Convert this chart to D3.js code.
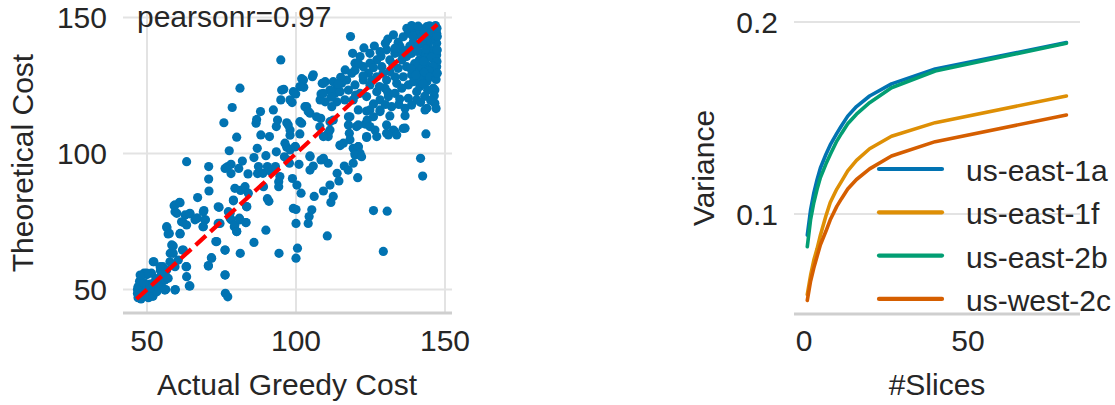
<!DOCTYPE html>
<html>

<head>
    <title>cost_variance</title>
    <script src="https://d3js.org/d3.v7.min.js"></script>
    <style>
        body { margin: 0; background: #fff; }
        text { font-family: "Liberation Sans", Arial, sans-serif; fill: #262626; }
    </style>
</head>

<body>
    <svg width="1115" height="405" id="mainsvg"></svg>
    <script>
        // left panel: [actual greedy cost, theoretical cost]
        const costPairs = [
            [118.3,143.0],[94.9,134.4],[81.2,124.0],[78.6,116.9],[75.8,111.3],[80.1,106.0],[63.3,97.0],[70.7,95.2],[70.7,90.6],[70.8,86.2],
            [67.0,83.8],[59.1,80.8],[60.9,82.0],[59.4,78.6],[56.7,72.7],[57.5,70.6],[61.1,70.6],[62.1,74.7],[64.4,77.8],[58.8,66.0],
            [57.8,63.3],[61.9,64.5],[63.1,58.4],[63.3,54.7],[64.2,51.3],[59.5,50.0],[56.3,50.0],[52.3,60.2],[55.3,58.4],[76.2,55.4],
            [76.3,48.6],[77.1,47.3],[70.6,58.8],[71.6,61.7],[73.1,67.6],[76.2,64.5],[81.3,63.3],[85.9,67.3],[89.9,71.8],[94.3,63.3],
            [100.0,61.5],[100.5,65.2],[110.5,69.7],[126.0,79.0],[130.6,78.8],[129.3,64.0],[141.8,98.2],[142.5,91.7],[143.6,107.2],
            [69.1,79.0],[69.6,75.6],[68.8,73.1],[66.1,75.6],[66.9,76.2],[74.2,80.2],[73.9,74.3],[77.9,78.0],[79.0,82.6],[78.3,75.6],
            [79.3,73.1],[80.1,71.3],[81.0,76.2],[83.2,74.6],[83.4,80.5],[81.4,86.4],[82.9,87.8],[83.9,92.5],[80.8,94.5],[82.0,97.2],
            [77.1,95.2],[78.2,96.0],[77.6,101.0],[76.2,94.5],[78.2,92.6],[85.9,98.5],[87.0,101.9],[87.1,92.6],[87.4,95.2],[88.9,92.7],
            [90.4,95.2],[89.9,99.2],[89.1,87.8],[90.4,83.4],[90.9,82.4],[91.6,93.3],[93.1,95.2],[93.4,100.6],[94.2,89.6],[94.2,87.8],
            [96.1,98.8],[96.9,102.3],[97.2,97.6],[98.0,106.7],[98.8,90.8],[99.8,102.5],[100.3,88.4],[101.0,96.0],[101.7,85.4],[99.1,79.8],
            [100.0,79.4],[100.0,74.3],[104.4,76.8],[104.1,74.3],[105.3,79.3],[106.1,84.2],[104.7,93.9],[105.8,95.4],[104.7,99.1],[108.4,97.6],
            [110.8,96.4],[109.2,86.2],[111.4,88.4],[111.7,82.0],[112.5,84.2],[113.8,92.7],[114.4,89.9],[116.2,95.4],[117.5,93.9],[119.2,96.4],
            [120.7,91.1],[119.2,101.9],[119.8,100.1],[120.9,102.5],[114.8,102.9],[117.9,107.4],[120.3,109.9],[123.7,105.9],[126.5,108.6],[123.2,110.8],
            [130.4,107.4],[133.2,108.0],[136.0,109.2],[136.6,113.9],[131.5,113.8],[128.2,115.4],[123.7,115.6],[118.1,113.5],[112.5,112.3],[110.8,106.2],
            [111.4,108.6],[108.0,109.8],[101.9,111.1],[101.3,107.2],[98.0,108.6],[96.9,111.3],[93.4,109.9],[91.1,106.2],[88.2,106.8],[86.6,111.1],
            [86.8,112.5],[88.1,115.4],[92.4,116.0],[93.8,112.3],[98.7,118.7],[94.9,119.7],[95.9,123.6],[99.9,121.9],[102.6,124.3],[101.9,127.5],
            [105.5,128.2],[103.6,117.2],[104.7,114.8],[108.8,125.8],[108.4,121.9],[109.8,119.0],[109.8,126.4],
            [132.7,143.6],[130.8,142.0],[134.3,140.9],[137.7,144.2],[139.4,141.1],[141.6,146.0],[143.9,146.6],[146.1,145.4],[146.6,141.7],[146.6,138.1],
            [146.3,134.4],[146.3,130.1],[144.4,139.9],[142.7,136.8],[143.9,132.5],[141.4,134.4],[140.5,130.7],[142.2,128.2],[143.9,126.4],[146.1,124.0],
            [146.6,118.5],[143.9,116.6],[140.5,122.7],[137.7,120.3],[137.7,125.2],[138.8,128.9],[136.0,128.2],[133.8,125.8],[135.5,134.4],[137.1,135.6],
            [133.2,136.8],[131.5,134.4],[130.4,138.1],[128.2,137.4],[127.1,134.4],[128.8,131.9],[131.5,130.1],[130.4,127.0],[133.2,128.2],[127.1,128.2],
            [124.8,136.8],[124.8,133.2],[122.6,131.9],[121.5,135.6],[119.0,136.8],[119.8,133.2],[118.7,129.5],[117.0,127.0],[115.3,125.8],[113.7,124.6],
            [113.1,122.1],[114.8,122.7],[117.6,123.3],[119.8,125.2],[122.6,127.0],[124.8,125.2],[127.1,122.7],[129.9,124.0],[128.2,119.7],[131.0,120.9],
            [133.2,122.1],[132.1,117.2],[136.6,116.6],[140.5,119.7],[123.7,120.9],[121.5,122.1],[119.2,119.7],[116.4,119.7],[113.7,119.0],[111.4,123.3],
            [112.5,126.4],[109.2,125.8],[124.8,116.0],[128.2,116.0],[126.0,113.5],[123.9,112.3],[120.9,110.5],[124.8,109.9],[130.4,110.5],[132.7,108.6],
            [133.8,106.8],[131.0,106.8],[127.1,106.2],[123.7,106.2],[136.6,109.3],[120.9,116.0],[117.6,113.5],[117.6,110.5],[114.8,103.1],[118.1,105.0],
            [120.9,102.5],[121.5,100.1],[119.8,99.4],[122.0,98.8],[110.8,107.4],[109.2,106.2],[108.3,112.9],[143.3,116.0],[146.6,123.3],[137.1,131.9],
            [138.8,136.8],[140.5,139.3],[142.7,142.9],[145.0,143.6],[147.2,144.2],[147.2,140.5],[147.2,136.2],[147.2,131.9],[145.5,137.4],[145.0,129.5],
            [142.2,131.9],[144.4,135.6],[141.6,124.6],[139.4,126.4],[134.3,131.3],[134.9,139.3],[136.0,142.9],[133.2,138.7],
            [139.5,145.0],[141.0,143.5],[143.0,144.8],[144.8,146.9],[146.8,147.0],[147.3,146.0],[145.8,142.4],[144.0,141.5],[142.3,140.2],[140.8,137.5],
            [143.5,138.4],[145.4,135.3],[147.3,133.8],[146.0,132.0],[144.6,130.5],[143.0,129.8],[141.3,127.5],[139.8,133.0],[138.5,131.2],[142.8,133.9],
            [144.9,128.0],[147.0,127.2],[146.4,121.2],[144.2,123.2],[142.6,125.6],[140.2,128.8],[138.2,139.5],[136.8,137.8],[135.6,136.5],[139.2,143.2],
            [137.2,146.0],[138.8,147.0],[141.0,146.8],[145.5,144.5],[147.4,143.0],[147.4,138.0],[147.4,129.5],[143.2,121.0],[145.2,119.5],[147.0,116.5],
            [130.0,140.5],[128.5,135.7],[126.0,131.5],[124.3,129.5],[126.3,139.5],[122.8,138.8],[121.0,133.0],[119.8,130.5],[122.5,128.5],[125.5,127.0],
            [128.0,124.6],[130.8,122.5],[134.8,120.0],[135.5,124.0],[132.5,132.8],[129.2,129.5],[116.5,130.7],[115.0,128.0],[114.2,125.5],[111.8,120.7],
            [120.0,121.5],[126.0,118.2],[130.0,118.0],[134.5,118.0],[138.8,117.8],[141.8,118.8],
            [47.0,47.0],[47.5,48.0],[48.0,46.5],[48.0,49.0],[48.5,50.5],[47.0,51.0],[47.5,53.0],[49.0,47.5],[49.5,49.0],[50.0,51.0],
            [50.5,47.0],[51.0,48.5],[51.0,52.0],[52.0,49.5],[52.5,51.0],[53.0,54.0],[53.5,50.0],[54.0,52.5],[55.0,51.0],[55.5,55.0],
            [50.0,55.5],[49.0,56.0],[51.5,56.0],[54.5,57.0],[56.0,53.5],[48.0,53.0],[46.8,50.0],[46.8,48.5],[49.0,52.5],[52.0,47.5],
            [59.4,81.1],[61.1,81.9],[60.0,78.0],[62.8,77.4],[64.4,78.0],[61.6,74.9],[63.3,73.7],[66.7,76.2],[68.9,78.6],[69.5,75.6],
            [68.9,73.1],[73.9,80.4],[74.5,74.3],[77.3,78.6],[79.0,82.9],[77.9,76.2],[79.5,73.7],[80.1,71.3],[81.2,75.6],[83.2,74.6],
            [83.5,80.4],[84.0,85.4],[79.5,87.2],[73.4,67.6],[76.2,64.5],[71.7,61.5],[70.6,58.6],[63.3,58.4],[64.4,51.3],[58.8,63.3],
            [57.7,60.2],[60.5,60.8],[56.6,57.2],[59.4,58.4],[56.6,73.1],[57.1,70.4],[61.1,70.4],[58.3,66.4],[62.2,64.5],[52.1,60.2],
            [54.4,58.4],[49.9,56.0],[47.7,55.3],[54.9,55.3],[57.1,54.1],[56.0,49.8],[59.4,49.8],[52.1,52.3],[53.3,49.2],[51.0,50.4],
            [53.3,53.7],[76.2,55.3],
            [95.2,123.3],[102.5,127.0],[105.8,128.9],[101.3,124.6],[99.1,122.7],[98.0,119.7],[103.0,117.2],[104.1,115.4],[101.3,111.7],[97.4,110.5],
            [96.3,103.8],[99.7,102.5],[98.0,101.3],[104.7,98.8],[109.2,98.2],[115.9,103.8],[106.9,113.5],[111.4,111.7],[112.0,117.2],[108.1,119.7],
            [109.2,122.1],[94.6,91.5],[97.8,96.4]
        ];
        const pearsonText = 'pearsonr=0.97';
        const costTicks = [50, 100, 150];

        // right panel
        const zones = ['us-east-1a', 'us-east-1f', 'us-east-2b', 'us-west-2c'];
        const slices = [1, 2, 3, 4, 5, 6.67, 8, 10, 11.43, 13.33, 16, 20, 26.67, 40, 80];
        const varEast1a = [0.089, 0.102, 0.111, 0.118, 0.124, 0.131, 0.136, 0.142, 0.146, 0.151, 0.156, 0.1615, 0.1678, 0.1756, 0.1893];
        const varEast1f = [0.058, 0.068, 0.076, 0.082, 0.089, 0.099, 0.106, 0.113, 0.117, 0.1225, 0.128, 0.134, 0.1405, 0.1476, 0.1615];
        const varEast2b = [0.083, 0.097, 0.106, 0.113, 0.119, 0.126, 0.131, 0.138, 0.142, 0.147, 0.152, 0.158, 0.1658, 0.1745, 0.1890];
        const varWest2c = [0.055, 0.065, 0.072, 0.078, 0.084, 0.091, 0.097, 0.104, 0.108, 0.113, 0.118, 0.1235, 0.1302, 0.1377, 0.1516];
        const zoneColors = ['#0173b2', '#de8f05', '#029e73', '#d55e00'];
        const slicesTicks = [0, 50];
        const varianceTicks = [0.1, 0.2];

        const svg = d3.select('#mainsvg');
        const gridColor = '#e3e3e3', spineColor = '#cfcfcf';
        const fs = 30;

        // ---------- left: scatter ----------
        const L = { left: 123, right: 452, top: 12, bottom: 312 };
        const x1 = d3.scaleLinear().domain([41.95, 152.35]).range([L.left, L.right]);
        const y1 = d3.scaleLinear().domain([41.73, 152.0]).range([L.bottom, L.top]);
        const g1 = svg.append('g');

        g1.selectAll('.hgrid').data(costTicks).enter().append('line')
            .attr('x1', L.left).attr('x2', L.right)
            .attr('y1', d => y1(d)).attr('y2', d => y1(d))
            .attr('stroke', gridColor).attr('stroke-width', 2);
        g1.selectAll('.vgrid').data(costTicks).enter().append('line')
            .attr('y1', L.top).attr('y2', L.bottom)
            .attr('x1', d => x1(d)).attr('x2', d => x1(d))
            .attr('stroke', gridColor).attr('stroke-width', 2);
        g1.append('line')
            .attr('x1', L.left).attr('x2', L.right).attr('y1', L.bottom + 1).attr('y2', L.bottom + 1)
            .attr('stroke', spineColor).attr('stroke-width', 3);

        g1.selectAll('circle').data(costPairs).enter().append('circle')
            .attr('cx', d => x1(d[0])).attr('cy', d => y1(d[1]))
            .attr('r', 4.6).attr('fill', '#0173b2');

        const lo = d3.min(costPairs, d => Math.min(d[0], d[1]));
        const hi = d3.max(costPairs, d => Math.max(d[0], d[1]));
        g1.append('line')
            .attr('x1', x1(lo)).attr('y1', y1(lo)).attr('x2', x1(hi)).attr('y2', y1(hi))
            .attr('stroke', 'red').attr('stroke-width', 4.2).attr('stroke-dasharray', '14,6');

        g1.append('text').attr('x', 137).attr('y', 27).attr('font-size', fs).text(pearsonText);

        g1.selectAll('.ytl').data(costTicks).enter().append('text')
            .attr('x', 107).attr('y', d => y1(d) + 10.8).attr('text-anchor', 'end')
            .attr('font-size', fs).text(d => d);
        g1.selectAll('.xtl').data(costTicks).enter().append('text')
            .attr('x', d => x1(d)).attr('y', 351).attr('text-anchor', 'middle')
            .attr('font-size', fs).text(d => d);
        g1.append('text').attr('x', 287).attr('y', 395).attr('text-anchor', 'middle')
            .attr('font-size', fs).text('Actual Greedy Cost');
        g1.append('text').attr('transform', 'translate(33,163) rotate(-90)')
            .attr('text-anchor', 'middle').attr('font-size', fs).text('Theoretical Cost');

        // ---------- right: variance lines ----------
        const R = { left: 794, right: 1080, top: 19, bottom: 313 };
        const x2 = d3.scaleLinear().domain([-3.05, 84.15]).range([R.left, R.right]);
        const y2 = d3.scaleLinear().domain([0.04844, 0.2016]).range([R.bottom, R.top]);
        const g2 = svg.append('g');

        g2.selectAll('.hgrid').data(varianceTicks).enter().append('line')
            .attr('x1', R.left).attr('x2', R.right)
            .attr('y1', d => y2(d)).attr('y2', d => y2(d))
            .attr('stroke', gridColor).attr('stroke-width', 2);
        g2.append('line')
            .attr('x1', R.left).attr('x2', R.right).attr('y1', R.bottom + 1).attr('y2', R.bottom + 1)
            .attr('stroke', spineColor).attr('stroke-width', 3);

        const series = [varEast1a, varEast1f, varEast2b, varWest2c];
        const line = d3.line().x((d, i) => x2(slices[i])).y(d => y2(d));
        g2.selectAll('.series').data(series).enter().append('path')
            .attr('d', d => line(d))
            .attr('fill', 'none')
            .attr('stroke', (d, i) => zoneColors[i])
            .attr('stroke-width', 3.6)
            .attr('stroke-linecap', 'round').attr('stroke-linejoin', 'round');

        g2.selectAll('.ytl').data(varianceTicks).enter().append('text')
            .attr('x', 778).attr('y', d => y2(d) + 10.8).attr('text-anchor', 'end')
            .attr('font-size', fs).text(d => d);
        g2.selectAll('.xtl').data(slicesTicks).enter().append('text')
            .attr('x', d => x2(d)).attr('y', 351).attr('text-anchor', 'middle')
            .attr('font-size', fs).text(d => d);
        g2.append('text').attr('x', 937).attr('y', 395).attr('text-anchor', 'middle')
            .attr('font-size', fs).text('#Slices');
        g2.append('text').attr('transform', 'translate(714,168) rotate(-90)')
            .attr('text-anchor', 'middle').attr('font-size', fs).text('Variance');

        // legend
        const legend = g2.selectAll('.leg').data(zones).enter().append('g')
            .attr('transform', (d, i) => `translate(879,${169 + i * 43.3})`);
        legend.append('line').attr('x1', 0).attr('x2', 63)
            .attr('stroke', (d, i) => zoneColors[i]).attr('stroke-width', 4.2)
            .attr('stroke-linecap', 'round');
        legend.append('text').attr('x', 87).attr('y', 12).attr('font-size', fs).text(d => d);
    </script>
</body>

</html>
